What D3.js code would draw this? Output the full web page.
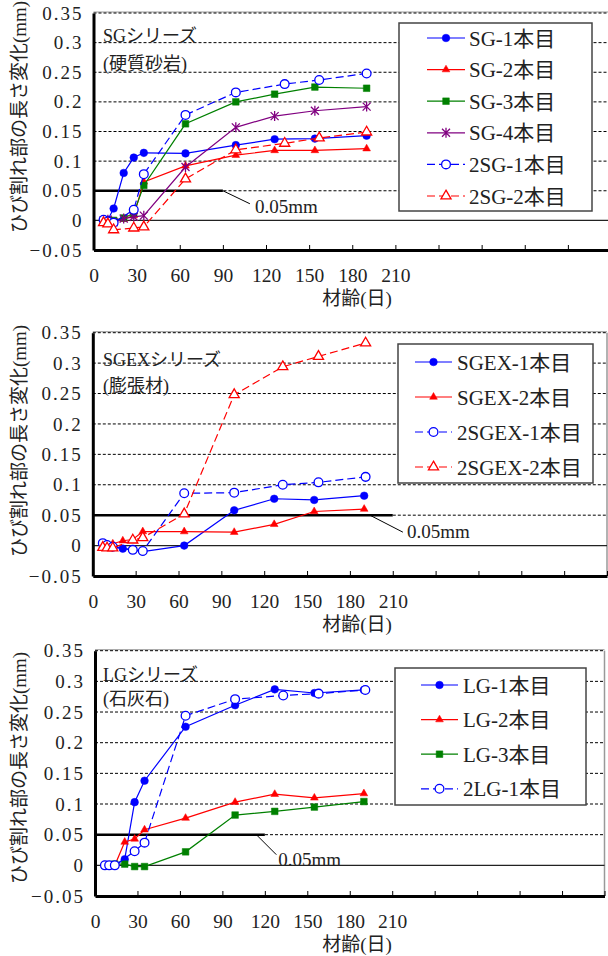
<!DOCTYPE html>
<html>
<head>
<meta charset="utf-8">
<script src="https://cdn.jsdelivr.net/npm/d3@7"></script>
<style>
body { margin: 0; background: #fff; }
</style>
</head>
<body>
<script>
// x / y ticks
var xTicks = [0, 30, 60, 90, 120, 150, 180, 210, 240, 270, 300, 330, 360];
var xTickLabels = ["0", "30", "60", "90", "120", "150", "180", "210", "", "", "", "", ""];
var yTicks = [-0.05, 0, 0.05, 0.1, 0.15, 0.2, 0.25, 0.3, 0.35];
var yTickLabels = ["\u22120.05", "0", "0.05", "0.1", "0.15", "0.2", "0.25", "0.3", "0.35"];

// SGシリーズ
var sgDays = [7, 10, 14, 21, 28, 35, 64, 99, 126, 154, 190];
var sg2Days = [7, 10, 14, 28, 35, 64, 99, 133, 157, 190];
var sg1 = [0, 0.001, 0.02, 0.08, 0.106, 0.114, 0.113, 0.127, 0.137, 0.138, 0.143];
var sg2 = [-0.003, -0.005, -0.003, 0.002, 0.008, 0.065, 0.092, 0.110, 0.118, 0.118, 0.121];
var sg3 = [0, -0.002, 0, 0.004, 0.012, 0.059, 0.163, 0.200, 0.213, 0.225, 0.223];
var sg4 = [0, 0.001, -0.003, 0.003, 0.006, 0.008, 0.090, 0.157, 0.176, 0.185, 0.192];
var twoSg1 = [0.001, -0.002, -0.004, 0.018, 0.078, 0.178, 0.216, 0.230, 0.237, 0.248];
var twoSg2 = [-0.004, -0.006, -0.016, -0.013, -0.011, 0.070, 0.119, 0.130, 0.139, 0.149];

// SGEXシリーズ
var sgexDays = [7, 10, 14, 21, 28, 35, 64, 99, 127, 155, 190];
var sgex2Days = [7, 10, 14, 28, 35, 64, 99, 133, 158, 191];
var sgex1 = [0.003, 0, -0.002, -0.005, -0.007, -0.010, 0, 0.058, 0.077, 0.075, 0.082];
var sgex2 = [0, 0.001, 0.003, 0.008, 0.010, 0.023, 0.023, 0.022, 0.035, 0.056, 0.060];
var twoSgex1 = [0.004, 0.001, -0.002, -0.007, -0.009, 0.086, 0.087, 0.100, 0.104, 0.113];
var twoSgex2 = [-0.003, -0.004, -0.004, 0.009, 0.013, 0.052, 0.248, 0.294, 0.311, 0.333];

// LGシリーズ
var lgDays = [7, 10, 14, 21, 28, 35, 64, 99, 127, 155, 190];
var lg2Days = [7, 10, 14, 28, 35, 64, 99, 133, 158, 191];
var lg1 = [0, 0, 0, 0.010, 0.103, 0.138, 0.226, 0.261, 0.287, 0.281, 0.286];
var lg2 = [0, 0, 0, 0.038, 0.043, 0.058, 0.077, 0.103, 0.116, 0.110, 0.117];
var lg3 = [0, 0, 0.002, 0.002, -0.002, -0.002, 0.022, 0.082, 0.088, 0.095, 0.104];
var twoLg1 = [0, 0, 0, 0.023, 0.037, 0.244, 0.271, 0.277, 0.280, 0.286];

var refValue = 0.05;
var refLabel = "0.05mm";
var yTitle = "ひび割れ部の長さ変化(mm)";
var xTitle = "材齢(日)";

var FONT = '"Liberation Serif", "Noto Sans CJK JP", serif';
var BLUE = "#0000ff", RED = "#ff0000", GREEN = "#008000", PURPLE = "#800080";

var panels = [
    {top: 13, bottom: 250, left: 93.5, right: 611, yLabelY: 117,
     title: ["SGシリーズ", "(硬質砂岩)"], titleY: [42, 70],
     refEnd: 90, leader: [90, 27, 13, 32, 22],
     legend: {x: 399, y: 23, w: 193, h: 188, sw0: 427, sw1: 465, tx: 469, row0: 38, rowH: 31.6},
     series: [
        {name: "SG-1本目", days: sgDays, vals: sg1, color: BLUE, mark: "circle"},
        {name: "SG-2本目", days: sgDays, vals: sg2, color: RED, mark: "triangle"},
        {name: "SG-3本目", days: sgDays, vals: sg3, color: GREEN, mark: "square"},
        {name: "SG-4本目", days: sgDays, vals: sg4, color: PURPLE, mark: "star"},
        {name: "2SG-1本目", days: sg2Days, vals: twoSg1, color: BLUE, mark: "ocircle", dash: true},
        {name: "2SG-2本目", days: sg2Days, vals: twoSg2, color: RED, mark: "otriangle", dash: true}
     ]},
    {top: 332.7, bottom: 576, left: 92.8, right: 607, yLabelY: 441,
     title: ["SGEXシリーズ", "(膨張材)"], titleY: [366, 392],
     refEnd: 210, leader: [194, 33, 17, 37, 23],
     legend: {x: 398, y: 344, w: 195, h: 139, sw0: 415, sw1: 452, tx: 457, row0: 362, rowH: 35},
     series: [
        {name: "SGEX-1本目", days: sgexDays, vals: sgex1, color: BLUE, mark: "circle"},
        {name: "SGEX-2本目", days: sgexDays, vals: sgex2, color: RED, mark: "triangle"},
        {name: "2SGEX-1本目", days: sgex2Days, vals: twoSgex1, color: BLUE, mark: "ocircle", dash: true},
        {name: "2SGEX-2本目", days: sgex2Days, vals: twoSgex2, color: RED, mark: "otriangle", dash: true}
     ]},
    {top: 650.7, bottom: 896, left: 95, right: 604.5, yLabelY: 768,
     title: ["LGシリーズ", "(石灰石)"], titleY: [681, 705],
     refEnd: 120, leader: [114, 20, 20, 22, 31],
     legend: {x: 395, y: 668, w: 191, h: 137, sw0: 421, sw1: 458, tx: 463, row0: 685, rowH: 34.6},
     series: [
        {name: "LG-1本目", days: lgDays, vals: lg1, color: BLUE, mark: "circle"},
        {name: "LG-2本目", days: lgDays, vals: lg2, color: RED, mark: "triangle"},
        {name: "LG-3本目", days: lgDays, vals: lg3, color: GREEN, mark: "square"},
        {name: "2LG-1本目", days: lg2Days, vals: twoLg1, color: BLUE, mark: "ocircle", dash: true}
     ]}
];

var svg = d3.select("body").append("svg")
    .attr("width", 608)
    .attr("height", 956)
    .style("font-family", FONT);

svg.append("rect").attr("width", 608).attr("height", 956).attr("fill", "#fff");

function drawMarker(g, kind, color, cx, cy) {
    var s;
    if (kind == "star") {
        g.append("path")
            .attr("d", "M-4,-4L4,4M-4,4L4,-4M0,-5L0,5")
            .attr("transform", `translate(${cx},${cy})`)
            .attr("stroke", color).attr("stroke-width", 1.3).attr("fill", "none");
        return;
    }
    if (kind == "circle") s = d3.symbol(d3.symbolCircle, 46);
    if (kind == "ocircle") s = d3.symbol(d3.symbolCircle, 60);
    if (kind == "triangle") s = d3.symbol(d3.symbolTriangle, 26);
    if (kind == "otriangle") s = d3.symbol(d3.symbolTriangle, 44);
    if (kind == "square") s = d3.symbol(d3.symbolSquare, 44);
    var open = kind.charAt(0) == "o";
    g.append("path")
        .attr("d", s)
        .attr("transform", `translate(${cx},${cy})`)
        .attr("fill", open ? "#fff" : color)
        .attr("stroke", color)
        .attr("stroke-width", open ? 1.3 : 0.5);
}

panels.forEach(function(p) {
    var x = d3.scaleLinear().domain([0, 360]).range([p.left, p.right]);
    var y = d3.scaleLinear().domain([-0.05, 0.35]).range([p.bottom, p.top]);
    var g = svg.append("g");

    // frame + grid
    g.append("line").attr("x1", p.left).attr("x2", p.right)
        .attr("y1", p.top - 1).attr("y2", p.top - 1)
        .attr("stroke", "#999").attr("stroke-width", 1);
    g.append("line").attr("x1", p.right).attr("x2", p.right)
        .attr("y1", p.top).attr("y2", p.bottom)
        .attr("stroke", "#999").attr("stroke-width", 1.5);
    g.selectAll("line.grid")
        .data(yTicks.filter(v => v > 0.01))
        .enter().append("line")
        .attr("x1", p.left).attr("x2", p.right)
        .attr("y1", d => y(d)).attr("y2", d => y(d))
        .attr("stroke", "#000").attr("stroke-width", 1)
        .attr("stroke-dasharray", "3,2");
    g.append("line").attr("x1", p.left).attr("x2", p.right)
        .attr("y1", y(0)).attr("y2", y(0))
        .attr("stroke", "#222").attr("stroke-width", 1.2);

    // 0.05mm reference line + leader
    g.append("line").attr("x1", x(0)).attr("x2", x(p.refEnd))
        .attr("y1", y(refValue)).attr("y2", y(refValue))
        .attr("stroke", "#000").attr("stroke-width", 2.5);
    var lx = x(p.leader[0]), ly = y(refValue);
    g.append("line").attr("x1", lx).attr("y1", ly)
        .attr("x2", lx + p.leader[1]).attr("y2", ly + p.leader[2])
        .attr("stroke", "#000").attr("stroke-width", 1);
    g.append("text").attr("x", lx + p.leader[3]).attr("y", ly + p.leader[4])
        .attr("font-size", 19).attr("fill", "#222").text(refLabel);

    // series title
    p.title.forEach(function(t, i) {
        g.append("text").attr("x", 103).attr("y", p.titleY[i])
            .attr("font-size", 18).attr("fill", "#222").text(t);
    });

    // axes
    var xAxis = d3.axisBottom(x).tickValues(xTicks).tickSize(-5).tickSizeOuter(0)
        .tickFormat((d, i) => xTickLabels[i]);
    var xg = g.append("g").attr("transform", `translate(0,${p.bottom})`).call(xAxis);
    xg.select(".domain").attr("stroke", "#000").attr("stroke-width", 3);
    xg.selectAll(".tick line").attr("stroke", "#000").attr("stroke-width", 1);
    xg.selectAll("text").attr("y", 32).attr("dy", null)
        .attr("font-size", 19.5).attr("font-family", FONT).attr("fill", "#222");

    var yAxis = d3.axisLeft(y).tickValues(yTicks).tickSize(0).tickSizeOuter(0).tickPadding(10)
        .tickFormat((d, i) => yTickLabels[i]);
    var yg = g.append("g").attr("transform", `translate(${p.left},0)`).call(yAxis);
    yg.select(".domain").attr("stroke", "#000").attr("stroke-width", 3);
    yg.selectAll("text").attr("font-size", 19).attr("font-family", FONT).attr("fill", "#222")
        .attr("letter-spacing", 2);

    g.append("text")
        .attr("transform", `translate(19,${p.yLabelY}) rotate(-90)`)
        .attr("text-anchor", "middle").attr("dy", "0.35em")
        .attr("font-size", 19).attr("fill", "#222").text(yTitle);
    g.append("text").attr("x", 357).attr("y", p.bottom + 55)
        .attr("text-anchor", "middle").attr("font-size", 19).attr("fill", "#222").text(xTitle);

    // series
    var line = d3.line().x(d => x(d[0])).y(d => y(d[1]));
    p.series.forEach(function(s) {
        var pts = d3.zip(s.days, s.vals);
        g.append("path").datum(pts)
            .attr("d", line)
            .attr("fill", "none")
            .attr("stroke", s.color)
            .attr("stroke-width", 1.2)
            .attr("stroke-dasharray", s.dash ? "8,4" : null);
        pts.forEach(d => drawMarker(g, s.mark, s.color, x(d[0]), y(d[1])));
    });

    // legend
    var L = p.legend;
    var lg = g.append("g");
    lg.append("rect").attr("x", L.x).attr("y", L.y).attr("width", L.w).attr("height", L.h)
        .attr("fill", "#fff").attr("stroke", "#444").attr("stroke-width", 1.5);
    p.series.forEach(function(s, i) {
        var ry = L.row0 + i * L.rowH;
        lg.append("line").attr("x1", L.sw0).attr("x2", L.sw1).attr("y1", ry).attr("y2", ry)
            .attr("stroke", s.color).attr("stroke-width", 1.2)
            .attr("stroke-dasharray", s.dash ? "8,4" : null);
        drawMarker(lg, s.mark, s.color, (L.sw0 + L.sw1) / 2, ry);
        lg.append("text").attr("x", L.tx).attr("y", ry + 7.5)
            .attr("font-size", 21).attr("fill", "#222").text(s.name);
    });
});
</script>
</body>
</html>
